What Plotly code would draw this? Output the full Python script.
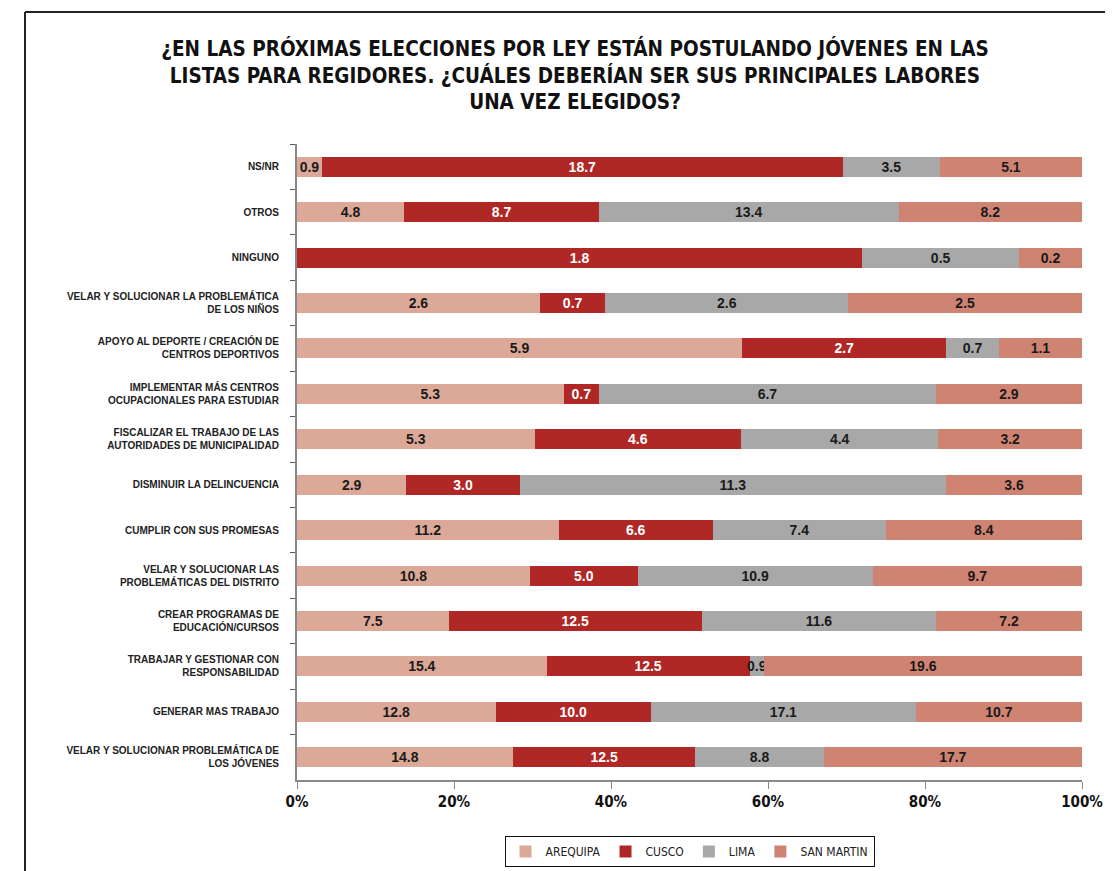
import plotly.graph_objects as go

categories = [
    "NS/NR",
    "OTROS",
    "NINGUNO",
    "VELAR Y SOLUCIONAR LA PROBLEMÁTICA<br>DE LOS NIÑOS",
    "APOYO AL DEPORTE / CREACIÓN DE<br>CENTROS DEPORTIVOS",
    "IMPLEMENTAR MÁS CENTROS<br>OCUPACIONALES PARA ESTUDIAR",
    "FISCALIZAR EL TRABAJO DE LAS<br>AUTORIDADES DE MUNICIPALIDAD",
    "DISMINUIR LA DELINCUENCIA",
    "CUMPLIR CON SUS PROMESAS",
    "VELAR Y SOLUCIONAR LAS<br>PROBLEMÁTICAS DEL DISTRITO",
    "CREAR PROGRAMAS DE<br>EDUCACIÓN/CURSOS",
    "TRABAJAR Y GESTIONAR CON<br>RESPONSABILIDAD",
    "GENERAR MAS TRABAJO",
    "VELAR Y SOLUCIONAR PROBLEMÁTICA DE<br>LOS JÓVENES",
]

arequipa = [0.9, 4.8, 0.0, 2.6, 5.9, 5.3, 5.3, 2.9, 11.2, 10.8, 7.5, 15.4, 12.8, 14.8]
cusco = [18.7, 8.7, 1.8, 0.7, 2.7, 0.7, 4.6, 3.0, 6.6, 5.0, 12.5, 12.5, 10.0, 12.5]
lima = [3.5, 13.4, 0.5, 2.6, 0.7, 6.7, 4.4, 11.3, 7.4, 10.9, 11.6, 0.9, 17.1, 8.8]
san_martin = [5.1, 8.2, 0.2, 2.5, 1.1, 2.9, 3.2, 3.6, 8.4, 9.7, 7.2, 19.6, 10.7, 17.7]

series = [
    ("AREQUIPA", arequipa, "#DCA897", "#1a1a1a"),
    ("CUSCO", cusco, "#AF2825", "#ffffff"),
    ("LIMA", lima, "#A8A8A8", "#1a1a1a"),
    ("SAN MARTIN", san_martin, "#CF8372", "#1a1a1a"),
]

title_text = ("¿EN LAS PRÓXIMAS ELECCIONES POR LEY ESTÁN POSTULANDO JÓVENES EN LAS<br>"
              "LISTAS PARA REGIDORES. ¿CUÁLES DEBERÍAN SER SUS PRINCIPALES LABORES<br>"
              "UNA VEZ ELEGIDOS?")

NARROW = "Liberation Sans Narrow, DejaVu Sans Condensed, Arial Narrow, sans-serif"
SANS = "Liberation Sans, Arial, sans-serif"

fig = go.Figure()
for name, vals, color, tcolor in series:
    fig.add_trace(go.Bar(
        y=categories,
        x=vals,
        name=name,
        orientation="h",
        marker=dict(color=color, line=dict(width=0)),
        text=[("%.1f" % v) if v > 0 else "" for v in vals],
        textposition="inside",
        insidetextanchor="middle",
        textangle=0,
        textfont=dict(family=SANS, size=14, color=tcolor, weight="bold"),
        cliponaxis=False,
        hoverinfo="skip",
    ))

# page body has an 8px margin; work in screen pixel coordinates
OFF = 8
SW, SH = 1113, 871
W, H = SW - OFF, SH - OFF
# plot area in screen pixels
PX0, PX1, PY0, PY1 = 297, 1082, 144, 780
L, R, T, B = PX0 - OFF, SW - PX1, PY0 - OFF, SH - PY1
pw, ph = PX1 - PX0, PY1 - PY0

def px_x(x):
    return (x - PX0) / pw

def px_y(y):
    return (PY1 - y) / ph

fig.update_layout(
    width=W, height=H,
    barmode="stack",
    barnorm="percent",
    bargap=0.56,
    plot_bgcolor="white",
    paper_bgcolor="white",
    margin=dict(l=L, r=R, t=T, b=B, autoexpand=False),
    uniformtext=dict(minsize=14, mode="show"),
    title=dict(
        text=title_text,
        x=(575 - OFF) / W, xanchor="center", xref="container",
        y=1 - (56 - OFF) / H, yanchor="middle", yref="container",
        font=dict(family=NARROW, size=20.5, color="#111111", weight="bold"),
    ),
    legend=dict(
        orientation="h",
        x=0.5, xanchor="center",
        y=px_y(836), yanchor="top",
        bordercolor="#111111", borderwidth=1,
        font=dict(family=NARROW, size=12, color="#222222"),
        traceorder="normal",
        itemwidth=30,
    ),
    xaxis=dict(
        range=[0, 100],
        tickvals=[0, 20, 40, 60, 80, 100],
        ticktext=["0%", "20%", "40%", "60%", "80%", "100%"],
        showgrid=False, zeroline=False,
        showline=True, linecolor="#888888", linewidth=1.5,
        ticks="outside", ticklen=7, tickcolor="#888888",
        tickfont=dict(family=NARROW, size=15, color="#111111", weight="bold"),
    ),
    yaxis=dict(
        autorange="reversed",
        showgrid=False, zeroline=False,
        showline=True, linecolor="#888888", linewidth=2,
        ticks="outside", ticklen=5, tickcolor="#555555",
        tickson="boundaries",
        ticklabelstandoff=14,
        tickfont=dict(family=SANS, size=10, color="#222222", weight="bold"),
    ),
    shapes=[
        dict(type="line", xref="paper", yref="paper",
             x0=px_x(25), x1=px_x(25), y0=px_y(SH + 5), y1=px_y(12),
             line=dict(color="#222222", width=2)),
        dict(type="line", xref="paper", yref="paper",
             x0=px_x(25), x1=px_x(SW + 5), y0=px_y(12), y1=px_y(12),
             line=dict(color="#222222", width=2)),
    ],
)

fig.write_html("out.html")
